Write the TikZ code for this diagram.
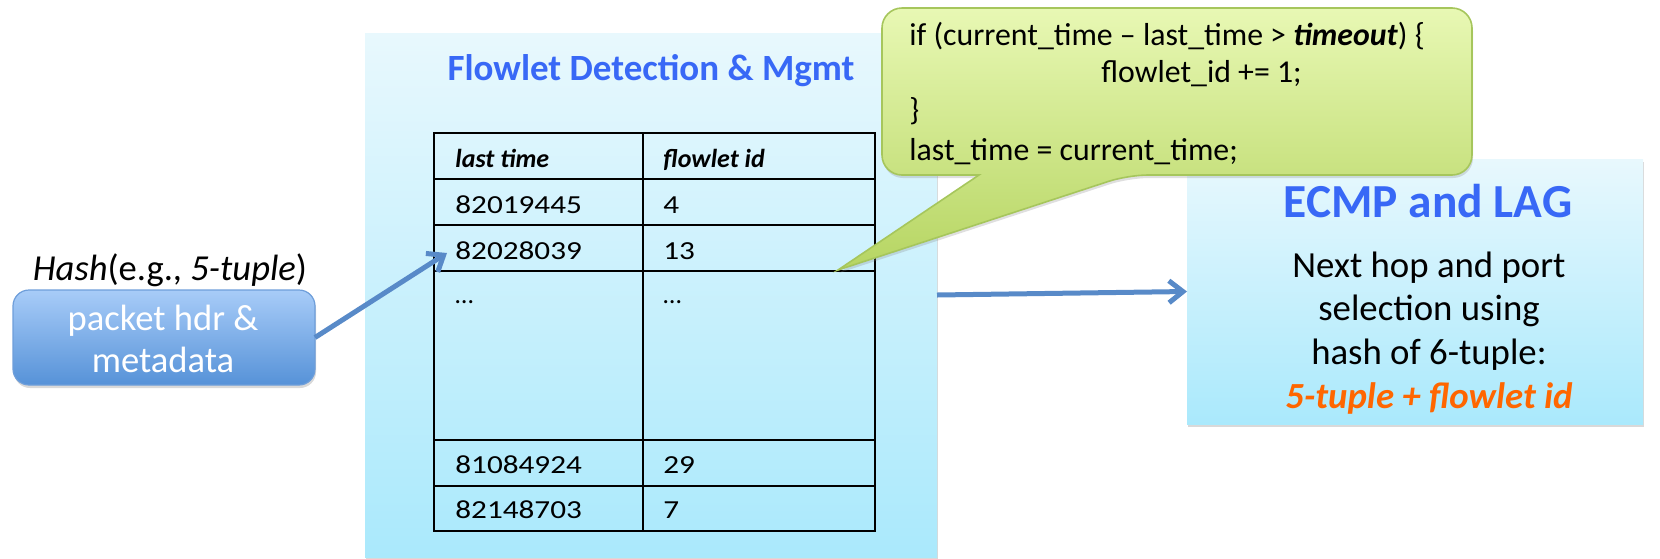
\documentclass[tikz,border=0pt]{standalone}
\usepackage{fontspec}
\setmainfont{Carlito}
\usetikzlibrary{shadows,arrows.meta,calc}
\definecolor{titleblue}{RGB}{56,104,246}
\definecolor{boxtop}{RGB}{232,248,253}
\definecolor{boxbot}{RGB}{170,233,252}
\definecolor{pkttop}{RGB}{168,204,248}
\definecolor{pktbot}{RGB}{86,146,216}
\definecolor{pktline}{RGB}{110,158,218}
\definecolor{cotop}{RGB}{232,248,180}
\definecolor{cobot}{RGB}{182,213,98}
\definecolor{coline}{RGB}{166,198,92}
\definecolor{arrowblue}{RGB}{88,138,200}
\definecolor{accent}{RGB}{255,102,0}
% table figures are set a little wider than the text face gives them
\newcommand{\tabnum}[1]{\scalebox{1.2}[1]{#1}}

\begin{document}
\begin{tikzpicture}[x=0.5pt,y=-0.5pt,
  panel/.style={anchor=north west, inner sep=0pt, outer sep=0pt,
    top color=boxtop, bottom color=boxbot,
    drop shadow={opacity=0.3, shadow xshift=0.5pt, shadow yshift=-1.5pt}},
  cell/.style={draw=black, line width=1pt, anchor=north west, inner sep=0pt, outer sep=0pt},
  celltext/.style={anchor=base west, inner sep=0pt, font=\fontsize{13}{15}\selectfont},
  headtext/.style={celltext, font=\fontsize{13}{15}\selectfont\bfseries\itshape},
  codeline/.style={anchor=base west, inner sep=0pt, font=\fontsize{15.9}{19}\selectfont},
  bodyline/.style={anchor=base, inner sep=0pt, font=\fontsize{18.4}{22}\selectfont},
  flowarrow/.style={draw=arrowblue, line width=2.5pt,
    -{Straight Barb[length=7pt,width=11pt]}},
]
\useasboundingbox (0,0) rectangle (1660,558);

% flowlet table panel
\node[panel, minimum width=286pt, minimum height=262pt] (flow) at (365,33) {};
\node[anchor=base, inner sep=0pt, text=titleblue,
  font=\fontsize{18.5}{22}\selectfont\bfseries] (ftitle) at (651,80) {Flowlet Detection \& Mgmt};

% table cells: columns at 434 | 643 | 875
\node[cell, minimum width=104.5pt, minimum height=23pt]   (h1) at (434,133) {};
\node[cell, minimum width=116pt,   minimum height=23pt]   (h2) at (643,133) {};
\node[cell, minimum width=104.5pt, minimum height=23pt]   (a1) at (434,179) {};
\node[cell, minimum width=116pt,   minimum height=23pt]   (b1) at (643,179) {};
\node[cell, minimum width=104.5pt, minimum height=23pt]   (a2) at (434,225) {};
\node[cell, minimum width=116pt,   minimum height=23pt]   (b2) at (643,225) {};
\node[cell, minimum width=104.5pt, minimum height=84.5pt] (a3) at (434,271) {};
\node[cell, minimum width=116pt,   minimum height=84.5pt] (b3) at (643,271) {};
\node[cell, minimum width=104.5pt, minimum height=23pt]   (a4) at (434,440) {};
\node[cell, minimum width=116pt,   minimum height=23pt]   (b4) at (643,440) {};
\node[cell, minimum width=104.5pt, minimum height=22.5pt] (a5) at (434,486) {};
\node[cell, minimum width=116pt,   minimum height=22.5pt] (b5) at (643,486) {};

\node[headtext] (th1) at (455,167) {last time};
\node[headtext] (th2) at (663,167) {flowlet id};
\node[celltext] (ta1) at (455,213) {\tabnum{82019445}};
\node[celltext] (tb1) at (663,213) {\tabnum{4}};
\node[celltext] (ta2) at (455,259) {\tabnum{82028039}};
\node[celltext] (tb2) at (663,259) {\tabnum{13}};
\node[celltext] (ta3) at (455,303) {…};
\node[celltext] (tb3) at (663,303) {…};
\node[celltext] (ta4) at (455,473) {\tabnum{81084924}};
\node[celltext] (tb4) at (663,473) {\tabnum{29}};
\node[celltext] (ta5) at (455,518) {\tabnum{82148703}};
\node[celltext] (tb5) at (663,518) {\tabnum{7}};

% ECMP / LAG panel
\node[panel, minimum width=228pt, minimum height=132.5pt] (ecmp) at (1187,159) {};
\node[anchor=base, inner sep=0pt, text=titleblue,
  font=\fontsize{23.7}{28}\selectfont\bfseries] (etitle) at (1428,217) {ECMP and LAG};
\node[bodyline] (e1) at (1429,277) {Next hop and port};
\node[bodyline] (e2) at (1429,320) {selection using};
\node[bodyline] (e3) at (1429,364) {hash of 6-tuple:};
\node[bodyline, text=accent, font=\fontsize{18.4}{22}\selectfont\bfseries\itshape] (e4) at (1429,408) {5-tuple + flowlet id};

% packet header box
\node[anchor=base, inner sep=0pt, font=\fontsize{18.3}{22}\selectfont] (hash) at (170,280)
  {\textit{Hash}(e.g., \textit{5-tuple})};
\node[anchor=north west, inner sep=0pt, outer sep=0pt, minimum width=151pt, minimum height=47.5pt,
  rounded corners=8pt, draw=pktline, line width=0.6pt, top color=pkttop, bottom color=pktbot,
  drop shadow={opacity=0.3, shadow xshift=0.5pt, shadow yshift=-1.5pt}] (pkt) at (13,290) {};
\node[bodyline, text=white, font=\fontsize{18.3}{22}\selectfont] (p1) at (163,330) {packet hdr \&};
\node[bodyline, text=white, font=\fontsize{18.3}{22}\selectfont] (p2) at (163,372) {metadata};

% connectors
\coordinate (hit) at (447,253);
\draw[flowarrow] (pkt.east) -- (hit);
\draw[flowarrow] (flow.east) -- (ecmp.west);

% callout with the flowlet update rule
\coordinate (tip) at (838,270);
\path[draw=coline, line width=0.8pt, top color=cotop, bottom color=cobot,
  drop shadow={opacity=0.25, shadow xshift=0.5pt, shadow yshift=-1.5pt}]
  (1150,8) [rounded corners=10pt] -- (1472,8) -- (1472,175) -- (1128,175)
  [sharp corners] -- (tip) -- (979,175) [rounded corners=10pt] -- (882,175) -- (882,8) -- cycle;
\node[codeline] (c1) at (909,45) {if (current\_time – last\_time > \textbf{\textit{timeout}}) \{};
\node[codeline] (c2) at (1101,82) {flowlet\_id += 1;};
\node[codeline] (c3) at (909,120) {\}};
\node[codeline] (c4) at (909,160) {last\_time = current\_time;};
\end{tikzpicture}
\end{document}
